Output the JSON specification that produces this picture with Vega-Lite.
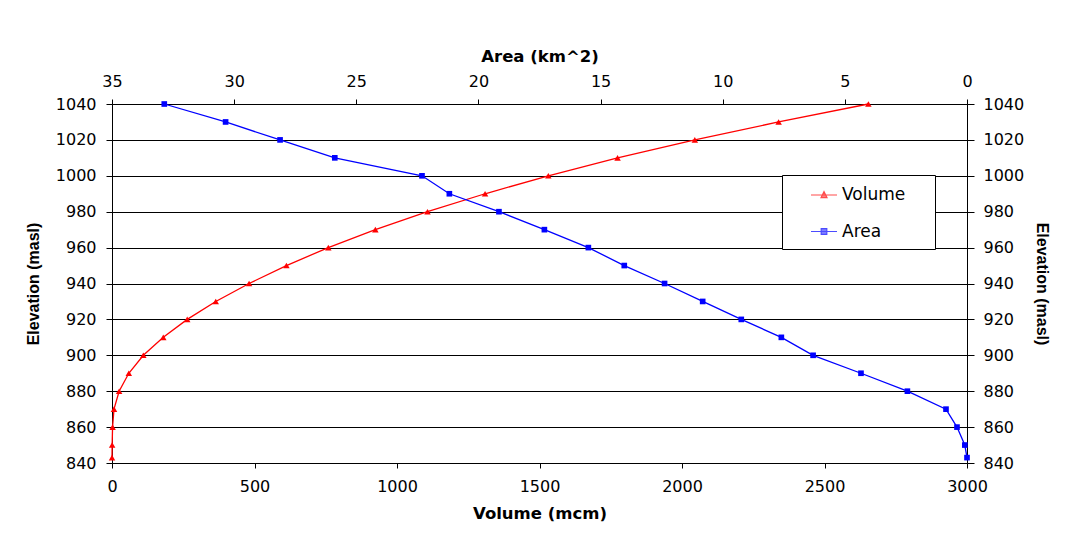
{
  "$schema": "https://vega.github.io/schema/vega-lite/v6.json",
  "width": 855,
  "height": 359,
  "padding": {"left": 25, "top": 48, "right": 5, "bottom": 5},
  "background": "white",
  "config": {
    "view": {"stroke": null},
    "axis": {
      "domainColor": "#000000",
      "domainWidth": 1,
      "tickColor": "#000000",
      "tickWidth": 1,
      "labelColor": "#000000",
      "titleColor": "#000000",
      "labelFont": "DejaVu Sans",
      "labelFontSize": 16,
      "titleFont": "DejaVu Sans",
      "titleFontWeight": "bold",
      "titleFontSize": 16.5,
      "gridColor": "#000000",
      "gridOpacity": 1,
      "gridWidth": 1,
      "labelFlush": false,
      "labelOverlap": false,
      "format": "d"
    }
  },
  "data": {
    "values": [
      {"elev": 1040, "volume": 2654, "area": 32.86},
      {"elev": 1030, "volume": 2339, "area": 30.35},
      {"elev": 1020, "volume": 2045, "area": 28.12},
      {"elev": 1010, "volume": 1774, "area": 25.88},
      {"elev": 1000, "volume": 1531, "area": 22.31},
      {"elev": 990, "volume": 1309, "area": 21.19},
      {"elev": 980, "volume": 1107, "area": 19.16},
      {"elev": 970, "volume": 924, "area": 17.30},
      {"elev": 960, "volume": 759, "area": 15.50},
      {"elev": 950, "volume": 612, "area": 14.03},
      {"elev": 940, "volume": 481, "area": 12.38},
      {"elev": 930, "volume": 364, "area": 10.82},
      {"elev": 920, "volume": 264, "area": 9.24},
      {"elev": 910, "volume": 180, "area": 7.60},
      {"elev": 900, "volume": 110, "area": 6.30},
      {"elev": 890, "volume": 59, "area": 4.34},
      {"elev": 880, "volume": 25, "area": 2.44},
      {"elev": 870, "volume": 7, "area": 0.86},
      {"elev": 860, "volume": 2, "area": 0.41},
      {"elev": 850, "volume": 0.5, "area": 0.09},
      {"elev": 843, "volume": 0, "area": 0}
    ]
  },
  "layer": [
    {
      "encoding": {
        "x": {
          "field": "volume",
          "type": "quantitative",
          "scale": {"domain": [0, 3000], "nice": false, "zero": false},
          "axis": {
            "orient": "bottom",
            "values": [0, 500, 1000, 1500, 2000, 2500, 3000],
            "grid": false,
            "tickSize": 5,
            "labelPadding": 10,
            "title": "Volume (mcm)",
            "titlePadding": 11
          }
        },
        "y": {
          "field": "elev",
          "type": "quantitative",
          "scale": {"domain": [840, 1040], "nice": false, "zero": false},
          "axis": {
            "orient": "left",
            "values": [840, 860, 880, 900, 920, 940, 960, 980, 1000, 1020, 1040],
            "grid": true,
            "tickSize": 6,
            "labelPadding": 10,
            "title": "Elevation (masl)",
            "titleFont": "Liberation Sans",
            "titleFontSize": 16,
            "titlePadding": 14
          }
        },
        "order": {"field": "elev", "type": "quantitative"}
      },
      "layer": [
        {"mark": {"type": "line", "color": "#FF0000", "strokeWidth": 1.3}},
        {"mark": {"type": "point", "shape": "triangle-up", "filled": true, "color": "#FF0000", "size": 42, "opacity": 1}}
      ]
    },
    {
      "encoding": {
        "x": {
          "field": "area",
          "type": "quantitative",
          "scale": {"domain": [0, 35], "nice": false, "zero": false, "reverse": true},
          "axis": {
            "orient": "top",
            "values": [0, 5, 10, 15, 20, 25, 30, 35],
            "grid": false,
            "tickSize": 5,
            "labelPadding": 10,
            "title": "Area (km^2)",
            "titlePadding": 9
          }
        },
        "y": {
          "field": "elev",
          "type": "quantitative",
          "scale": {"domain": [840, 1040], "nice": false, "zero": false},
          "axis": {
            "orient": "right",
            "values": [840, 860, 880, 900, 920, 940, 960, 980, 1000, 1020, 1040],
            "grid": false,
            "tickSize": 7,
            "labelPadding": 9,
            "title": "Elevation (masl)",
            "titleFont": "Liberation Sans",
            "titleFontSize": 16,
            "titlePadding": 10
          }
        },
        "order": {"field": "elev", "type": "quantitative"}
      },
      "layer": [
        {"mark": {"type": "line", "color": "#0000FF", "strokeWidth": 1.3}},
        {"mark": {"type": "point", "shape": "square", "filled": true, "color": "#0000FF", "size": 32, "opacity": 1}},
        {
          "data": {"values": [{"series": "Volume"}, {"series": "Area"}]},
          "mark": {"type": "point", "filled": true},
          "encoding": {
            "fill": {
              "field": "series",
              "type": "nominal",
              "scale": {"domain": ["Volume", "Area"], "range": ["#FF0000", "#0000FF"]},
              "legend": {
                "orient": "none", "legendX": 670, "legendY": 71, "title": null,
                "strokeColor": "#000000", "fillColor": "#FFFFFF", "padding": 9, "rowPadding": 17.5,
                "symbolSize": 400, "symbolStrokeWidth": 1.2,
                "labelFont": "DejaVu Sans", "labelFontSize": 17, "labelColor": "#000000", "labelOffset": 29
              }
            },
            "stroke": {
              "field": "series",
              "type": "nominal",
              "scale": {"domain": ["Volume", "Area"], "range": ["#FF0000", "#0000FF"]},
              "legend": {
                "orient": "none", "legendX": 670, "legendY": 71, "title": null,
                "strokeColor": "#000000", "fillColor": "#FFFFFF", "padding": 9, "rowPadding": 17.5,
                "symbolSize": 400, "symbolStrokeWidth": 1.2,
                "labelFont": "DejaVu Sans", "labelFontSize": 17, "labelColor": "#000000", "labelOffset": 29
              }
            },
            "shape": {
              "field": "series",
              "type": "nominal",
              "scale": {
                "domain": ["Volume", "Area"],
                "range": [
                  "M0.9,0H3.5M1.9,0.27L2.2,-0.33L2.5,0.27ZM12.1,0",
                  "M0.9,0H3.5M1.92,-0.28H2.48V0.28H1.92ZM12.1,0"
                ]
              },
              "legend": {
                "orient": "none", "legendX": 670, "legendY": 71, "title": null,
                "strokeColor": "#000000", "fillColor": "#FFFFFF", "padding": 9, "rowPadding": 17.5,
                "symbolSize": 400, "symbolStrokeWidth": 1.2,
                "labelFont": "DejaVu Sans", "labelFontSize": 17, "labelColor": "#000000", "labelOffset": 29
              }
            }
          }
        }
      ]
    }
  ],
  "resolve": {"scale": {"x": "independent", "y": "independent"}}
}
